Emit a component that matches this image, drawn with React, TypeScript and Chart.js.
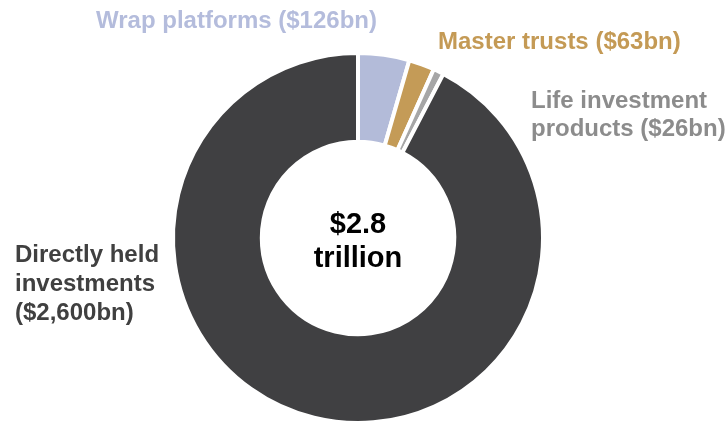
import React, { useEffect, useRef } from "react";
import { Chart, registerables } from "chart.js";

Chart.register(...registerables);

const categories = ["Wrap platforms", "Master trusts", "Life investment products", "Directly held investments"];
const values = [126, 63, 26, 2600];
const sliceColors = ["#b3bbd9", "#c49b57", "#a6a6a6", "#404042"];
const labelColors = ["#b4bcdc", "#c49a55", "#8c8c8c", "#404040"];
const labelLines = [
  ["Wrap platforms ($126bn)"],
  ["Master trusts ($63bn)"],
  ["Life investment", "products ($26bn)"],
  ["Directly held", "investments", "($2,600bn)"],
];
const centerLines = ["$2.8", "trillion"];

// layout of label blocks (left x, first baseline y, line step)
const labelPos = [
  { x: 96, y: 28, step: 27 },
  { x: 438, y: 49, step: 27 },
  { x: 531, y: 108, step: 28 },
  { x: 15, y: 262, step: 29 },
];

const FONT = "bold 24px 'Liberation Sans', Arial, sans-serif";

const labelPlugin = {
  id: "labelPlugin",
  afterDraw(chart: any) {
    const ctx = chart.ctx;
    ctx.save();
    ctx.textBaseline = "alphabetic";
    ctx.textAlign = "left";
    labelLines.forEach((lines, i) => {
      const p = labelPos[i];
      ctx.fillStyle = labelColors[i];
      ctx.font = FONT;
      lines.forEach((line, j) => {
        ctx.fillText(line, p.x, p.y + j * p.step);
      });
    });
    const meta = chart.getDatasetMeta(0);
    const arc = meta.data[0];
    const cx = arc.x;
    const cy = arc.y;
    ctx.fillStyle = "#000000";
    ctx.textAlign = "center";
    ctx.font = "bold 29px 'Liberation Sans', Arial, sans-serif";
    ctx.fillText(centerLines[0], cx, cy - 5);
    ctx.fillText(centerLines[1], cx, cy + 29);
    ctx.restore();
  },
};

export default function App() {
  const ref = useRef<HTMLCanvasElement>(null);
  useEffect(() => {
    if (!ref.current) return;
    const chart = new Chart(ref.current, {
      type: "doughnut",
      data: {
        labels: categories,
        datasets: [
          {
            data: values,
            backgroundColor: sliceColors,
            borderColor: "#ffffff",
            borderWidth: 4,
            hoverOffset: 0,
          },
        ],
      },
      options: {
        animation: false,
        responsive: false,
        cutout: "52%",
        layout: { padding: { left: 171, right: 181, top: 51, bottom: 5 } },
        plugins: {
          legend: { display: false },
          tooltip: { enabled: false },
        },
      },
      plugins: [labelPlugin],
    });
    return () => chart.destroy();
  }, []);
  return (
    <div style={{ position: "fixed", left: 0, top: 0, width: 726, height: 422, overflow: "hidden", background: "#fff" }}>
      <canvas ref={ref} width={726} height={430} style={{ display: "block" }} />
    </div>
  );
}
